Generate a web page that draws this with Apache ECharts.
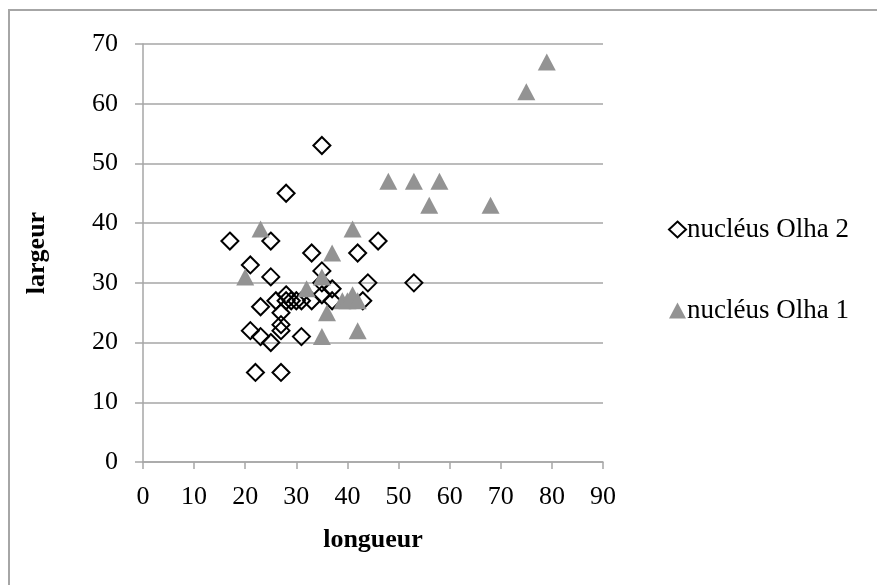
<!DOCTYPE html>
<html>
<head>
<meta charset="utf-8">
<script src="https://cdn.jsdelivr.net/npm/echarts@6/dist/echarts.min.js"></script>
<style>
html,body{margin:0;padding:0;background:#fff;}
#chart{width:877px;height:585px;}
</style>
</head>
<body>
<div id="chart"></div>
<script>
// Series names
const seriesNames = ['nucléus Olha 2', 'nucléus Olha 1'];
// nucléus Olha 2 : [longueur, largeur]
const olha2Longueur = [35, 28, 17, 25, 46, 33, 42, 21, 35, 25, 44, 53, 37, 28, 35, 26, 28, 29, 30, 31, 33, 37, 43, 23, 27, 27, 27, 21, 23, 25, 31, 22, 27, 35];
const olha2Largeur  = [53, 45, 37, 37, 37, 35, 35, 33, 32, 31, 30, 30, 29, 28, 28, 27, 27, 27, 27, 27, 27, 27, 27, 26, 25, 23, 22, 22, 21, 20, 21, 15, 15, 30];
// nucléus Olha 1 : [longueur, largeur]
const olha1Longueur = [79, 75, 48, 53, 58, 56, 68, 23, 41, 37, 20, 35, 32, 39, 40, 41, 42, 36, 35, 42];
const olha1Largeur  = [67, 62, 47, 47, 47, 43, 43, 39, 39, 35, 31, 31, 29, 27, 27, 28, 27, 25, 21, 22];
// Axis ticks
const xTicks = [0, 10, 20, 30, 40, 50, 60, 70, 80, 90];
const yTicks = [0, 10, 20, 30, 40, 50, 60, 70];
const xTitle = 'longueur';
const yTitle = 'largeur';

const FONT = 'Liberation Serif';
const olha2 = olha2Longueur.map((x, i) => [x, olha2Largeur[i]]);
const olha1 = olha1Longueur.map((x, i) => [x, olha1Largeur[i]]);

const chart = echarts.init(document.getElementById('chart'), null, {renderer: 'canvas'});
chart.setOption({
  animation: false,
  backgroundColor: '#fff',
  graphic: [{
    type: 'rect',
    shape: {x: 9, y: 10, width: 940, height: 640},
    style: {fill: 'none', stroke: '#a6a6a6', lineWidth: 2},
    silent: true, z: -1
  }],
  grid: {left: 143, top: 44, width: 460, height: 418, containLabel: false},
  legend: {
    orient: 'vertical',
    left: 663, top: 211,
    itemWidth: 17, itemHeight: 16,
    itemGap: 54,
    textStyle: {fontFamily: FONT, fontSize: 27, color: '#000', padding: [2, 0, 0, -4]},
    data: [
      {name: seriesNames[0], icon: 'diamond', itemStyle: {color: '#fff', borderColor: '#000', borderWidth: 2}},
      {name: seriesNames[1], icon: 'triangle'}
    ]
  },
  xAxis: {
    type: 'value', min: xTicks[0], max: xTicks[xTicks.length - 1], interval: 10,
    name: xTitle, nameLocation: 'middle', nameGap: 65,
    nameTextStyle: {fontFamily: FONT, fontSize: 26, fontWeight: 'bold', color: '#000'},
    axisLine: {show: true, lineStyle: {color: '#a6a6a6', width: 1.5}},
    axisTick: {show: true, length: 7, lineStyle: {color: '#a6a6a6', width: 1.5}},
    axisLabel: {fontFamily: FONT, fontSize: 26, color: '#000', margin: 22},
    splitLine: {show: false}
  },
  yAxis: {
    type: 'value', min: yTicks[0], max: yTicks[yTicks.length - 1], interval: 10,
    name: yTitle, nameLocation: 'middle', nameGap: 93, nameRotate: 90,
    nameTextStyle: {fontFamily: FONT, fontSize: 26, fontWeight: 'bold', color: '#000'},
    axisLine: {show: true, lineStyle: {color: '#a6a6a6', width: 1.5}},
    axisTick: {show: true, length: 8, lineStyle: {color: '#a6a6a6', width: 1.5}},
    axisLabel: {fontFamily: FONT, fontSize: 26, color: '#000', margin: 25},
    splitLine: {show: true, lineStyle: {color: '#a6a6a6', width: 1.5}}
  },
  series: [
    {
      name: seriesNames[0], type: 'scatter', data: olha2,
      symbol: 'diamond', symbolSize: [17, 17],
      itemStyle: {color: 'rgba(255,255,255,0)', borderColor: '#000', borderWidth: 2, opacity: 1},
      z: 2
    },
    {
      name: seriesNames[1], type: 'scatter', data: olha1,
      symbol: 'triangle', symbolSize: [18, 17],
      itemStyle: {color: '#939393', opacity: 1},
      z: 3
    }
  ]
});
</script>
</body>
</html>
